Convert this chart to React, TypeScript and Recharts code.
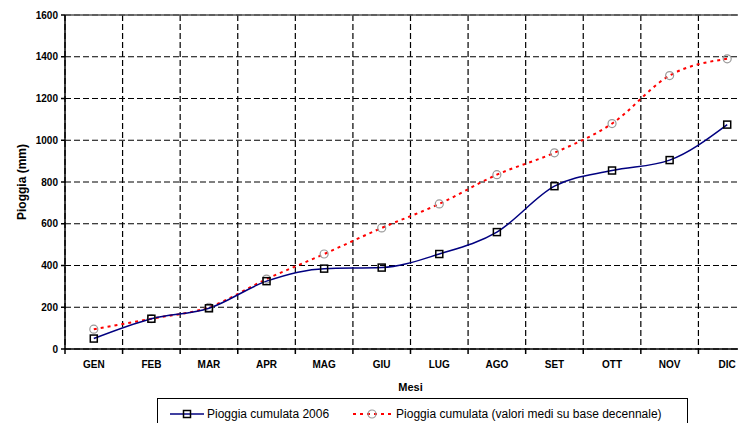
import React from 'react';
import {
  LineChart,
  Line,
  XAxis,
  YAxis,
  CartesianGrid,
  ReferenceLine,
  Label,
} from 'recharts';

// mesi e valori (mm)
const mesi = ['GEN', 'FEB', 'MAR', 'APR', 'MAG', 'GIU', 'LUG', 'AGO', 'SET', 'OTT', 'NOV', 'DIC'];
const cumulata2006 = [50, 145, 195, 325, 385, 390, 455, 560, 780, 855, 905, 1075];
const cumulataDecennale = [95, 145, 200, 335, 455, 580, 695, 835, 940, 1080, 1310, 1390];
const yTicks = [0, 200, 400, 600, 800, 1000, 1200, 1400, 1600];

const bordiMesi = mesi.map((_, i) => i).concat([mesi.length]);
const centriMesi = mesi.map((_, i) => i + 0.5);

const chartData = mesi.map((m, i) => ({
  x: i + 0.5,
  mese: m,
  anno2006: cumulata2006[i],
  decennale: cumulataDecennale[i],
}));

const FONT = '"Liberation Sans", Arial, sans-serif';

const SquareDot = (props: any) => {
  const { cx, cy } = props;
  if (cx == null || cy == null) return null;
  return <rect x={cx - 3.5} y={cy - 3.5} width={7} height={7} fill="none" stroke="#000" strokeWidth={1.5} />;
};

const CircleDot = (props: any) => {
  const { cx, cy } = props;
  if (cx == null || cy == null) return null;
  return <circle cx={cx} cy={cy} r={4} fill="none" stroke="#999" strokeWidth={1.2} />;
};

const Legenda = () => (
  <div
    style={{
      position: 'absolute',
      left: 157,
      top: 398,
      width: 531,
      height: 32,
      border: '1px solid #000',
      boxSizing: 'border-box',
      display: 'flex',
      alignItems: 'flex-start',
      paddingTop: 8,
      fontFamily: FONT,
      fontSize: 12,
      lineHeight: '14px',
      color: '#000',
      background: '#fff',
    }}
  >
    <svg width={34} height={14} style={{ marginLeft: 12 }}>
      <line x1={0} y1={7} x2={34} y2={7} stroke="#000080" strokeWidth={1.5} />
      <rect x={13.5} y={3.5} width={7} height={7} fill="none" stroke="#000" strokeWidth={1.5} />
    </svg>
    <span style={{ marginLeft: 3 }}>Pioggia cumulata 2006</span>
    <svg width={38} height={14} style={{ marginLeft: 24 }}>
      <line x1={0} y1={7} x2={38} y2={7} stroke="#ff0000" strokeWidth={2} strokeDasharray="3 4" />
      <circle cx={19} cy={7} r={4} fill="none" stroke="#999" strokeWidth={1.2} />
    </svg>
    <span style={{ marginLeft: 5 }}>Pioggia cumulata (valori medi su base decennale)</span>
  </div>
);

const App: React.FC = () => {
  return (
    <div style={{ position: 'absolute', left: 0, top: 0, width: 738, height: 423, overflow: 'hidden', background: '#fff' }}>
      <LineChart
        width={760}
        height={423}
        data={chartData}
        margin={{ top: 15, right: 4, left: 0, bottom: 32 }}
      >
        <CartesianGrid
          xAxisId="grid"
          stroke="#000"
          strokeWidth={1.2}
          strokeDasharray="6 3"
        />
        <XAxis
          xAxisId="grid"
          dataKey="x"
          type="number"
          domain={[0, 12]}
          ticks={bordiMesi}
          tick={() => <g />}
          tickSize={5}
          height={6}
          axisLine={{ stroke: '#000', strokeWidth: 1.5 }}
          tickLine={{ stroke: '#000', strokeWidth: 1.5 }}
        />
        <XAxis
          xAxisId="lab"
          dataKey="x"
          type="number"
          domain={[0, 12]}
          ticks={centriMesi}
          tickFormatter={(v: number) => mesi[Math.floor(v)]}
          axisLine={false}
          tickLine={false}
          tickSize={0}
          tickMargin={6}
          height={36}
          tick={{ fontSize: 10, fontWeight: 'bold', fill: '#000', fontFamily: FONT }}
          interval={0}
        >
          <Label value="Mesi" position="insideBottom" offset={0} style={{ fontSize: 11, fontWeight: 'bold', fill: '#000', fontFamily: FONT }} />
        </XAxis>
        <YAxis
          domain={[0, 1600]}
          ticks={yTicks}
          width={65}
          interval={0}
          tickSize={4}
          tickMargin={3}
          axisLine={{ stroke: '#000', strokeWidth: 1.5 }}
          tickLine={{ stroke: '#000', strokeWidth: 1.5 }}
          tick={{ fontSize: 10, fontWeight: 'bold', fill: '#000', fontFamily: FONT }}
        >
          <Label
            value="Pioggia (mm)"
            angle={-90}
            position="insideLeft"
            offset={22}
            style={{ textAnchor: 'middle', fontSize: 12, fontWeight: 'bold', fill: '#000', fontFamily: FONT }}
          />
        </YAxis>
        <ReferenceLine xAxisId="grid" y={1600} stroke="#555" strokeWidth={1.5} />
        <Line
          xAxisId="grid"
          type="monotone"
          dataKey="decennale"
          name="Pioggia cumulata (valori medi su base decennale)"
          stroke="#ff0000"
          strokeWidth={2}
          strokeDasharray="3 4"
          dot={<CircleDot />}
          activeDot={false}
          isAnimationActive={false}
        />
        <Line
          xAxisId="grid"
          type="monotone"
          dataKey="anno2006"
          name="Pioggia cumulata 2006"
          stroke="#000080"
          strokeWidth={1.5}
          dot={<SquareDot />}
          activeDot={false}
          isAnimationActive={false}
        />
      </LineChart>
      <Legenda />
    </div>
  );
};

export default App;
